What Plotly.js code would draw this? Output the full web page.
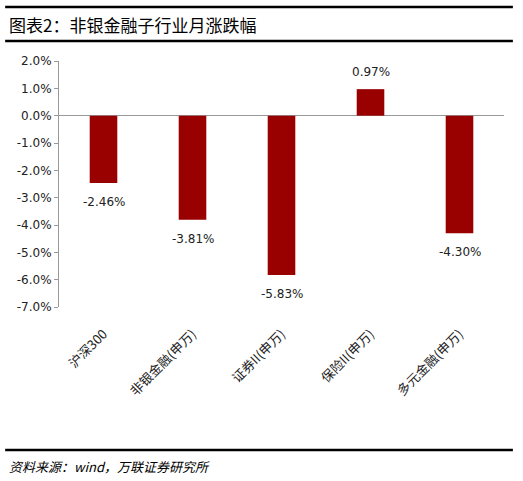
<!DOCTYPE html>
<html>
<head>
<meta charset="utf-8">
<script src="https://cdn.plot.ly/plotly-3.0.1.min.js"></script>
<style>
  html, body { margin: 0; padding: 0; background: #fff; }
  #chart { width: 523px; height: 481px; }
</style>
</head>
<body>
<div id="chart"></div>
<script>
    'use strict';

    // 子行业与月涨跌幅 (%)
    const categories = ['沪深300', '非银金融(申万)', '证券II(申万)', '保险II(申万)', '多元金融(申万)'];
    const changes = [-2.46, -3.81, -5.83, 0.97, -4.30];
    const yTicks = [2, 1, 0, -1, -2, -3, -4, -5, -6, -7];

    const FONT = 'DejaVu Sans, "Noto Sans CJK SC", sans-serif';
    const CJK = '"Noto Sans CJK SC", sans-serif';
    const BAR_COLOR = '#990000';
    const AXIS_COLOR = '#999999';

    const data = [{
        type: 'bar',
        x: categories,
        y: changes,
        width: 0.31,
        marker: {color: BAR_COLOR},
        hoverinfo: 'none'
    }];

    // value labels, placed off the bar end
    const valueLabels = categories.map((c, i) => ({
        x: c,
        y: changes[i],
        xref: 'x',
        yref: 'y',
        text: changes[i].toFixed(2) + '%',
        showarrow: false,
        yanchor: 'middle',
        yshift: changes[i] >= 0 ? 17 : -19,
        font: {family: FONT, size: 12, color: '#222'}
    }));

    const layout = {
        width: 523,
        height: 481,
        margin: {l: 59, r: 19, t: 61, b: 174},
        paper_bgcolor: '#fff',
        plot_bgcolor: '#fff',
        showlegend: false,
        font: {family: FONT, size: 11, color: '#222'},
        xaxis: {
            type: 'category',
            showline: false,
            showgrid: false,
            zeroline: false,
            ticks: '',
            tickangle: -45,
            ticklabelstandoff: 16,
            tickfont: {family: CJK, size: 13, color: '#222'}
        },
        yaxis: {
            range: [-7, 2],
            tickvals: yTicks,
            ticktext: yTicks.map(v => v.toFixed(1) + '%'),
            showline: true,
            linecolor: AXIS_COLOR,
            linewidth: 1,
            ticks: 'outside',
            ticklen: 4,
            tickcolor: AXIS_COLOR,
            showgrid: false,
            zeroline: true,
            zerolinecolor: AXIS_COLOR,
            zerolinewidth: 1,
            tickfont: {family: FONT, size: 12, color: '#222'}
        },
        shapes: [
            // lines above / below the header and above the source
            {type: 'line', xref: 'paper', yref: 'paper', x0: -0.121, x1: 1.02, y0: 1.2195, y1: 1.2195,
                line: {color: '#000', width: 2.5}},
            {type: 'line', xref: 'paper', yref: 'paper', x0: -0.121, x1: 1.02, y0: 1.0813, y1: 1.0813,
                line: {color: '#000', width: 2.5}},
            {type: 'line', xref: 'paper', yref: 'paper', x0: -0.121, x1: 1.02, y0: -0.5813, y1: -0.5813,
                line: {color: '#000', width: 2.5}}
        ],
        annotations: valueLabels.concat([
            {text: '图表2：非银金融子行业月涨跌幅', xref: 'paper', yref: 'paper',
                x: -0.117, y: 1.15, xanchor: 'left', yanchor: 'middle', showarrow: false,
                font: {family: CJK, size: 17, color: '#000'}},
            {text: '<i>资料来源：wind，万联证券研究所</i>', xref: 'paper', yref: 'paper',
                x: -0.117, y: -0.65, xanchor: 'left', yanchor: 'middle', showarrow: false,
                font: {family: CJK, size: 13, color: '#000'}}
        ])
    };

    Plotly.newPlot('chart', data, layout, {staticPlot: true, displayModeBar: false});
</script>
</body>
</html>
